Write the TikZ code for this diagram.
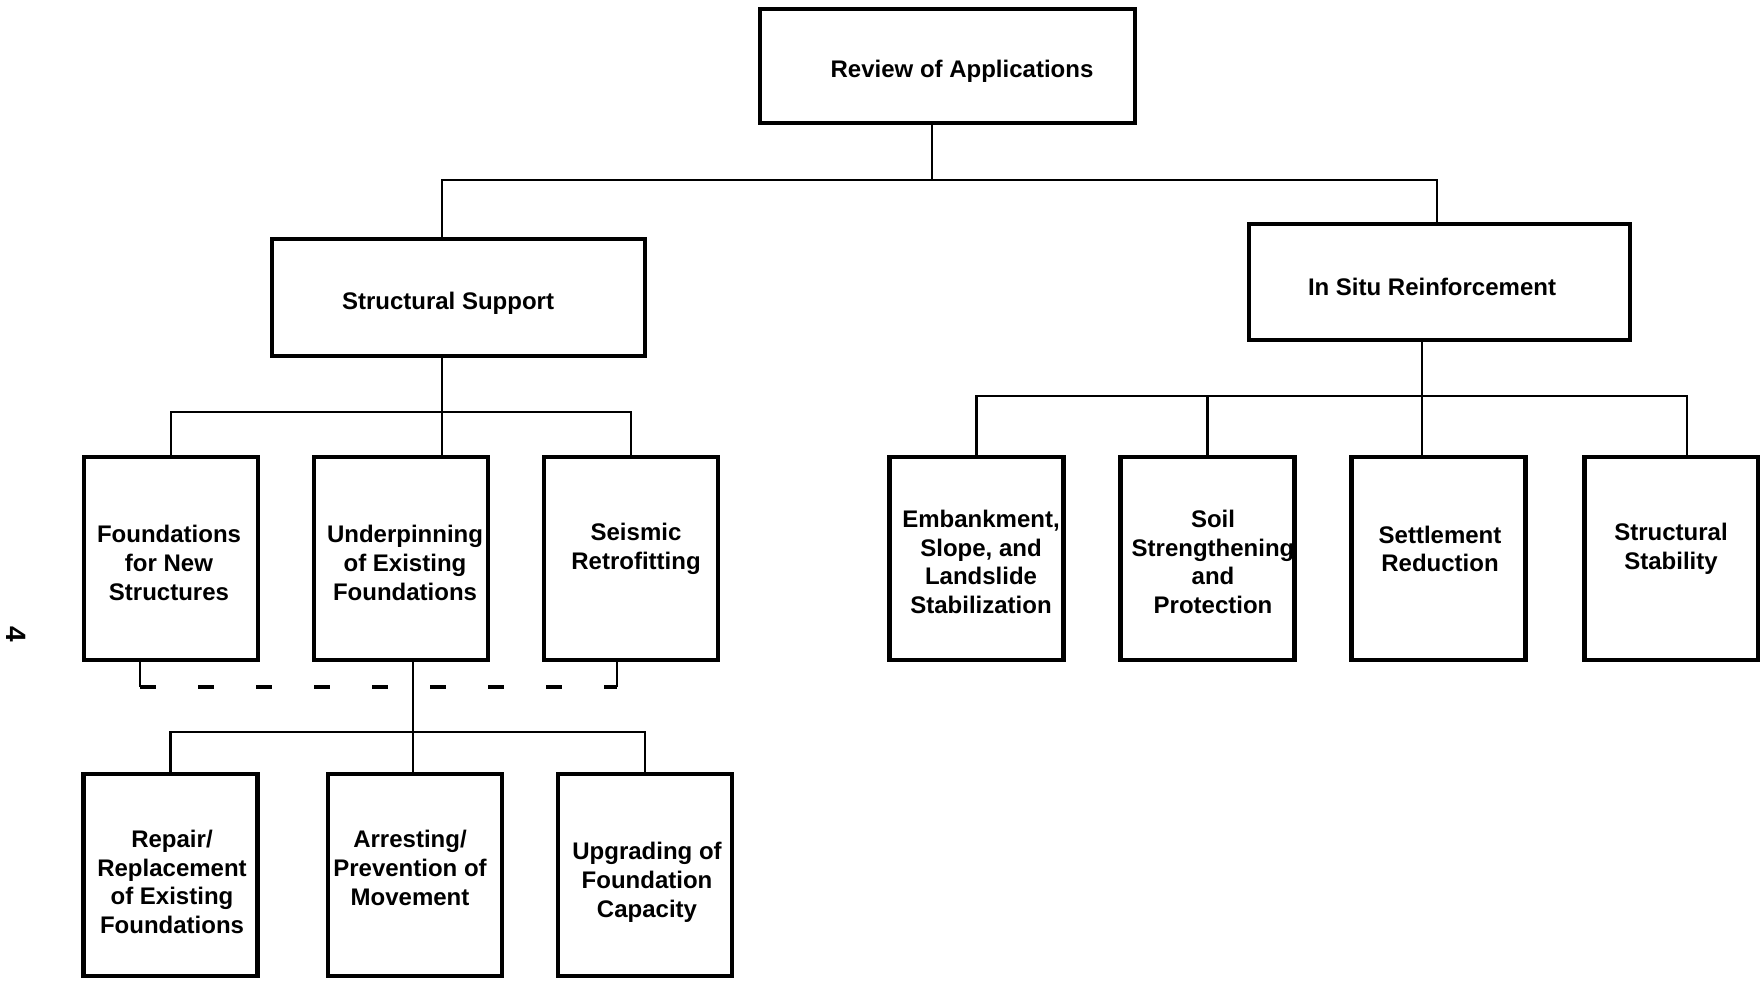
\documentclass[tikz,border=0pt]{standalone}
\usepackage{fontspec}
\setmainfont{Liberation Sans}
\begin{document}
\begin{tikzpicture}[x=0.5pt,y=-0.5pt,
  box/.style={draw,line width=2.2pt,inner sep=0pt},
  tallbox/.style={box,minimum width=87pt,minimum height=101.5pt},
  lbl/.style={align=center,font=\bfseries\fontsize{12}{14.4}\selectfont},
  wire/.style={line width=1.3pt},
  dashwire/.style={line width=2pt,dash pattern=on 8pt off 21pt}]
\useasboundingbox (0,0) rectangle (1760,980);
\node[box,minimum width=187.5pt,minimum height=57pt] (review) at (947.5,66) {};
\node[lbl] (review-t) at (962,71) {Review of Applications};
\node[box,minimum width=186.5pt,minimum height=58.5pt] (ss) at (458.5,297.5) {};
\node[lbl] (ss-t) at (448,303) {Structural Support};
\node[box,minimum width=190.5pt,minimum height=58pt] (isr) at (1439.5,282) {};
\node[lbl] (isr-t) at (1432,287) {In Situ Reinforcement};
\node[tallbox] (found) at (171,558.5) {};
\node[lbl] (found-t) at (169,563) {Foundations\\for New\\Structures};
\node[tallbox] (under) at (401,558.5) {};
\node[lbl] (under-t) at (405,563) {Underpinning\\of Existing\\Foundations};
\node[tallbox] (seis) at (631,558.5) {};
\node[lbl] (seis-t) at (636,549) {Seismic\\Retrofitting};
\node[tallbox] (emb) at (976.5,558.5) {};
\node[lbl] (emb-t) at (981,562) {Embankment,\\Slope, and\\Landslide\\Stabilization};
\node[tallbox] (soil) at (1207.5,558.5) {};
\node[lbl] (soil-t) at (1213,562) {Soil\\Strengthening\\and\\Protection};
\node[tallbox] (settle) at (1438.5,558.5) {};
\node[lbl] (settle-t) at (1440,549) {Settlement\\Reduction};
\node[tallbox] (stab) at (1671.5,558.5) {};
\node[lbl] (stab-t) at (1671,549) {Structural\\Stability};
\node[tallbox,minimum height=101pt] (repair) at (170.5,875) {};
\node[lbl] (repair-t) at (172,882) {Repair/\\Replacement\\of Existing\\Foundations};
\node[tallbox,minimum height=101pt] (arrest) at (415,875) {};
\node[lbl] (arrest-t) at (410,868) {Arresting/\\Prevention of\\Movement};
\node[tallbox,minimum height=101pt] (upgr) at (645,875) {};
\node[lbl] (upgr-t) at (647,882) {Upgrading of\\Foundation\\Capacity};
\node[rotate=-90,font=\bfseries\fontsize{14}{16}\selectfont] (pageno) at (16,634) {4};
% top level
\coordinate (top-l) at (442,180);
\coordinate (top-m) at (932,180);
\coordinate (top-r) at (1437,180);
\draw[wire] (review.south -| top-m) -- (top-m);
\draw[wire] (ss.north -| top-l) -- (top-l) -- (top-r) -- (isr.north -| top-r);
% structural support
\coordinate (ss-bus) at (442,412);
\draw[wire] (ss.south -| ss-bus) -- (ss-bus);
\draw[wire] (found.north) |- (ss-bus) -| (seis.north);
\draw[wire] (ss-bus) -- (under.north -| ss-bus);
% in situ reinforcement
\coordinate (isr-bus) at (1422,396);
\coordinate (stab-in) at (1687,396);
\draw[wire] (isr.south -| isr-bus) -- (isr-bus);
\draw[wire] (emb.north) |- (isr-bus) -- (stab-in) -- (stab.north -| stab-in);
\draw[wire] (soil.north) -- (soil.north |- isr-bus);
\draw[wire] (isr-bus) -- (settle.north -| isr-bus);
% dashed link
\coordinate (dash-l) at (140,687);
\coordinate (dash-r) at (617,687);
\draw[wire] (found.south -| dash-l) -- (dash-l);
\draw[wire] (seis.south -| dash-r) -- (dash-r);
\draw[dashwire] (dash-l) -- (dash-r);
% underpinning
\coordinate (under-bus) at (413,732);
\draw[wire] (under.south -| under-bus) -- (under-bus);
\draw[wire] (repair.north) |- (under-bus) -| (upgr.north);
\draw[wire] (under-bus) -- (arrest.north -| under-bus);
\end{tikzpicture}
\end{document}
